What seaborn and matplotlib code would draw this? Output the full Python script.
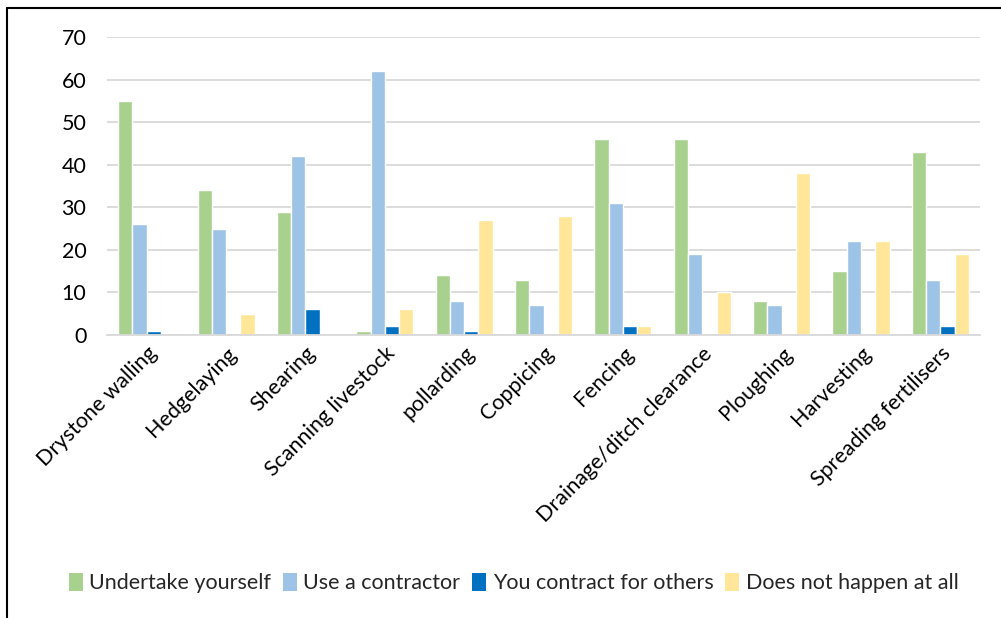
import numpy as np
import pandas as pd
import matplotlib
matplotlib.use("Agg")
import matplotlib.pyplot as plt
from matplotlib.lines import Line2D
import seaborn as sns

categories = ["Drystone walling", "Hedgelaying", "Shearing", "Scanning livestock",
              "pollarding", "Coppicing", "Fencing", "Drainage/ditch clearance",
              "Ploughing", "Harvesting", "Spreading fertilisers"]
undertake_yourself = [55, 34, 29, 1, 14, 13, 46, 46, 8, 15, 43]
use_contractor = [26, 25, 42, 62, 8, 7, 31, 19, 7, 22, 13]
contract_for_others = [1, 0, 6, 2, 1, 0, 2, 0, 0, 0, 2]
does_not_happen = [0, 5, 0, 6, 27, 28, 2, 10, 38, 22, 19]

series_names = ["Undertake yourself", "Use a contractor",
                "You contract for others", "Does not happen at all"]
series_values = [undertake_yourself, use_contractor, contract_for_others, does_not_happen]
colors = ["#A9D18E", "#9DC3E6", "#0070C0", "#FFE699"]

rows = []
for name, vals in zip(series_names, series_values):
    for cat, v in zip(categories, vals):
        rows.append({"Activity": cat, "Series": name, "Value": v})
df = pd.DataFrame(rows)

sns.set_style("white")
plt.rcParams["font.family"] = ["Lato", "DejaVu Sans"]

fig = plt.figure(figsize=(10.01, 6.18), dpi=100)
ax = fig.add_axes([0.107, 0.458, 0.872, 0.482])

sns.barplot(data=df, x="Activity", y="Value", hue="Series", order=categories,
            hue_order=series_names, palette=colors, width=0.72, saturation=1,
            edgecolor="white", linewidth=1.0, ax=ax, legend=True)

ax.set_ylim(0, 70)
ax.set_yticks(range(0, 71, 10))
ax.set_xlim(-0.5, len(categories) - 0.5)
ax.yaxis.grid(True, color="#D9D9D9", linewidth=1.3)
ax.set_axisbelow(True)
for side in ["top", "right", "left"]:
    ax.spines[side].set_visible(False)
ax.spines["bottom"].set_color("#D9D9D9")
ax.spines["bottom"].set_linewidth(1.3)
ax.tick_params(axis="both", length=0, labelsize=15.5, colors="black")
ax.tick_params(axis="y", pad=15)
ax.set_xlabel("")
ax.set_ylabel("")
plt.setp(ax.get_xticklabels(), rotation=45, ha="right", rotation_mode="anchor")
ax.tick_params(axis="x", pad=6)

leg = ax.legend(loc="center", bbox_to_anchor=(0.513, 1 - 583 / 618),
                bbox_transform=fig.transFigure,
                ncol=4, frameon=False, fontsize=15.5, handlelength=0.65, handleheight=0.9,
                handletextpad=0.3, columnspacing=0.55)
for h in leg.legend_handles:
    h.set_edgecolor("none")

# chart frame lines
fig.add_artist(Line2D([7 / 1001, 7 / 1001], [0, 1 - 8 / 618], color="black", linewidth=1.5,
                      transform=fig.transFigure))
fig.add_artist(Line2D([7 / 1001, 1], [1 - 8 / 618, 1 - 8 / 618], color="black", linewidth=1.5,
                      transform=fig.transFigure))

fig.savefig("out.png", dpi=100)
